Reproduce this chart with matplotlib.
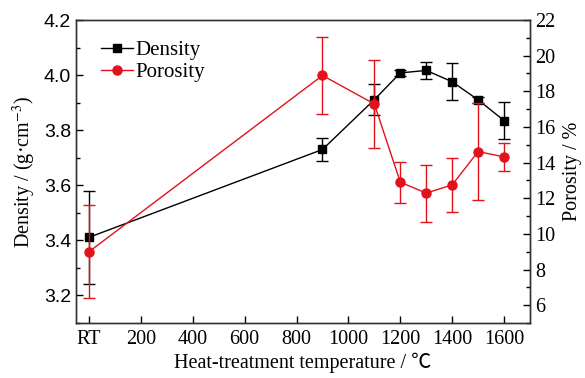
import matplotlib
matplotlib.use('Agg')
import matplotlib.pyplot as plt
from matplotlib.ticker import MultipleLocator
from matplotlib.lines import Line2D

plt.rcParams['font.family'] = ['Liberation Serif', 'Noto Sans CJK SC', 'DejaVu Serif']
plt.rcParams['mathtext.fontset'] = 'stix'

# data (RT plotted at 0)
temps = [0, 900, 1100, 1200, 1300, 1400, 1500, 1600]
xtick_labels = ['RT', '200', '400', '600', '800', '1000', '1200', '1400', '1600']
density = [3.411, 3.730, 3.911, 4.008, 4.017, 3.976, 3.910, 3.835]
density_err = [0.17, 0.043, 0.056, 0.01, 0.03, 0.067, 0.01, 0.068]
porosity = [9.0, 18.89, 17.29, 12.9, 12.29, 12.75, 14.62, 14.32]
porosity_err = [2.6, 2.15, 2.45, 1.15, 1.6, 1.5, 2.7, 0.77]

fig = plt.figure(figsize=(5.85, 3.78), dpi=100)
ax = fig.add_axes([0.130, 0.1455, 0.776, 0.8015])
ax2 = ax.twinx()

red = '#e3111b'
ax.errorbar(temps, density, yerr=density_err, color='black', marker='s',
            markersize=6, linewidth=1.0, capsize=4.5, elinewidth=1.0, zorder=3)
ax2.errorbar(temps, porosity, yerr=porosity_err, color=red, marker='o',
             markersize=6.5, linewidth=1.0, capsize=4.5, elinewidth=1.0, zorder=3)

ax.set_xlim(-50, 1700)
ax.set_ylim(3.1, 4.2)
ax2.set_ylim(5, 22)

ax.set_xticks(range(0, 1601, 200))
ax.set_xticklabels(xtick_labels)
ax.yaxis.set_major_locator(MultipleLocator(0.2))
ax.yaxis.set_minor_locator(MultipleLocator(0.1))
ax.yaxis.set_major_formatter(plt.FormatStrFormatter('%.1f'))
ax2.set_yticks(range(6, 23, 2))
ax2.yaxis.set_minor_locator(MultipleLocator(1))

ax.tick_params(axis='x', direction='in', labelsize=14.5, length=5, width=1, pad=5)
ax.tick_params(axis='y', direction='in', labelsize=14, length=5, width=1)
ax.tick_params(axis='y', which='minor', direction='in', length=3, width=1)
ax2.tick_params(axis='y', direction='in', labelsize=14.5, length=5, width=1)
ax2.tick_params(axis='y', which='minor', direction='in', length=3, width=1)
for lab in ax.get_yticklabels():
    lab.set_family('Liberation Sans')

for a in (ax, ax2):
    for s in a.spines.values():
        s.set_linewidth(1.0)
        s.set_color('#333333')

ax.set_xlabel('Heat-treatment temperature / ℃', fontsize=14.5, labelpad=3)
ax.set_ylabel('Density / (g·cm$^{-3}$)', fontsize=14.5, labelpad=4)
ax2.set_ylabel('Porosity / %', fontsize=14.5, labelpad=6)

h1 = Line2D([], [], color='black', marker='s', markersize=6, linewidth=1.0)
h2 = Line2D([], [], color=red, marker='o', markersize=6.5, linewidth=1.0)
ax.legend([h1, h2], ['Density', 'Porosity'], loc='upper left',
          bbox_to_anchor=(0.01, 1.0), frameon=False, fontsize=15,
          handlelength=1.5, handletextpad=0.15, borderaxespad=0.6,
          labelspacing=0.1)

fig.savefig('out.png', dpi=100)
